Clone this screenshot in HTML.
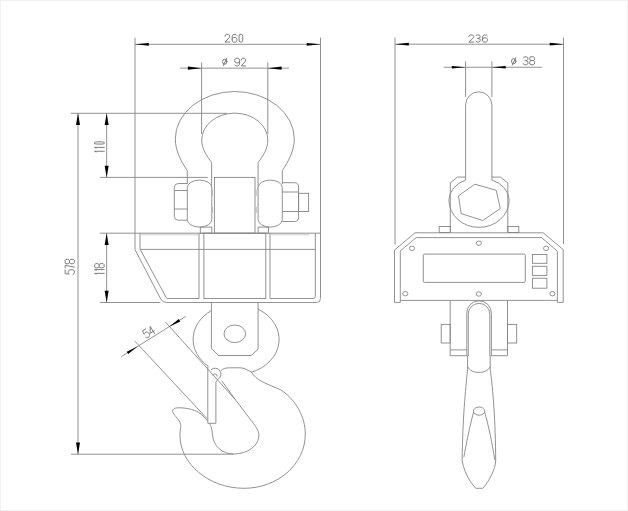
<!DOCTYPE html>
<html><head><meta charset="utf-8"><style>
html,body{margin:0;padding:0;background:#fff;}
svg{display:block;}
text{font-family:"Liberation Sans",sans-serif;fill:#777;}
</style></head><body>
<svg width="628" height="511" viewBox="0 0 628 511">
<rect x="0" y="0" width="628" height="511" fill="#fff"/>
<rect x="0.5" y="0.5" width="627" height="510" fill="none" stroke="#f1f1f1" stroke-width="1"/>
<g fill="none" stroke="#868686" stroke-width="0.9">
<!-- ===== LEFT VIEW ===== -->
<!-- 260 dimension -->
<line x1="135.0" y1="37.7" x2="135.0" y2="249.6"/>
<line x1="320.5" y1="37.7" x2="320.5" y2="298"/>
<line x1="135.0" y1="44.3" x2="320.5" y2="44.3"/>
<!-- dia 92 -->
<line x1="201.6" y1="62.3" x2="201.6" y2="134"/>
<line x1="267.8" y1="62.3" x2="267.8" y2="134"/>
<line x1="180.1" y1="68.15" x2="289" y2="68.15"/>
<!-- 110 / 578 dims -->
<line x1="70.8" y1="113.3" x2="227" y2="113.3"/>
<line x1="100.1" y1="177.4" x2="207.8" y2="177.4"/>
<line x1="106.65" y1="113.3" x2="106.65" y2="177.4"/>
<line x1="78" y1="113.3" x2="78" y2="454.2"/>
<line x1="70.9" y1="454.2" x2="233.5" y2="454.2"/>
<!-- 118 -->
<line x1="99.8" y1="233.2" x2="320.5" y2="233.2"/>
<line x1="99.8" y1="302.5" x2="160.3" y2="302.5"/>
<line x1="106.65" y1="233.2" x2="106.65" y2="302.5"/>
<!-- shackle -->
<path d="M187.3 184 L187.3 170.6 C181.5 162 175.3 151 175.3 139 A59.5 47.5 0 0 1 294.3 139 C294.3 151 288 162 282.3 170.6 L282.3 184"/>
<path d="M211.6 190 L211.6 162.5 C207 156 201.7 149 201.7 140 A33.05 26.9 0 0 1 267.8 140 C267.8 149 263 156 258.1 162.5 L258.1 190"/>
<line x1="212.4" y1="190" x2="212.4" y2="196" stroke="#bbb"/>
<line x1="212.4" y1="207" x2="212.4" y2="213" stroke="#bbb"/>
<line x1="256.3" y1="190" x2="256.3" y2="196" stroke="#bbb"/>
<line x1="256.3" y1="207" x2="256.3" y2="213" stroke="#bbb"/>
<!-- eyes -->
<rect x="187.3" y="180.1" width="24.5" height="47" rx="12.2" ry="7.5" fill="#fff"/>
<rect x="258.1" y="180.1" width="24.2" height="47" rx="12.1" ry="7.5" fill="#fff"/>
<!-- nuts -->
<path d="M187.3 183.5 L178.3 183.5 Q174.3 183.5 174.3 187.5 L174.3 216.2 Q174.3 220.2 178.3 220.2 L187.3 220.2"/>
<line x1="174.3" y1="190.5" x2="187.3" y2="190.5"/>
<line x1="174.3" y1="209" x2="187.3" y2="209"/>
<path d="M282.3 182.7 L294.4 182.7 Q298.6 182.7 298.6 186.9 L298.6 217.3 Q298.6 221.5 294.4 221.5 L282.3 221.5"/>
<line x1="282.3" y1="192" x2="298.6" y2="192"/>
<line x1="282.3" y1="211.5" x2="298.6" y2="211.5"/>
<rect x="298.6" y="193.3" width="10" height="18.2"/>
<!-- center block -->
<rect x="214.4" y="177.4" width="40.6" height="55.8"/>
<!-- tabs -->
<rect x="200.3" y="227.1" width="11.5" height="6.1"/>
<rect x="258.1" y="227.1" width="10.4" height="6.1"/>
<!-- body -->
<path d="M135.0 249.6 L160.8 299.2 Q162.8 302.5 166.4 302.5 L316.5 302.5 Q320.5 302.5 320.5 298.5"/>
<path d="M140 233.2 L140 249 L166.2 297.6 Q166.8 298.5 168 298.5 L199 298.5 L199 233.2"/>
<rect x="203.9" y="233.2" width="61.9" height="65.3"/>
<path d="M270 233.2 L270 298.5 L313.3 298.5 Q315.3 298.5 315.3 296.5 L315.3 233.2"/>
<line x1="140" y1="249.4" x2="315.3" y2="249.4"/>
<line x1="140" y1="234.8" x2="199" y2="234.8" stroke="#c8c8c8"/>
<line x1="270" y1="234.8" x2="309" y2="234.8" stroke="#c8c8c8"/>
<!-- hook eye -->
<path d="M211.5 310.53 A43 35.2 0 0 0 208.5 366.39"/>
<path d="M258.1 309.16 A43 35.2 0 0 1 251.1 372.39"/>
<path d="M211.4 302.5 L211.4 348.4 L218.5 355.5 L251 355.5 L258.1 349.3 L258.1 302.5"/>
<ellipse cx="234.8" cy="333.8" rx="10.8" ry="8.8"/>
<!-- 54 dim -->
<line x1="121.4" y1="356.5" x2="185.7" y2="316.4"/>
<line x1="134.8" y1="341.1" x2="207.1" y2="418.7"/>
<line x1="165.4" y1="322" x2="235.3" y2="399.6"/>
<!-- hook -->
<path d="M251 371.5 C256 381 268 384 281 390 C296 400 305.3 417 305.3 434 C305.3 465 277 488.3 244 488.3 C208 488.3 180 463 180 436 C180 430 181 427 180.7 424.6 C179 418 173 415 172.6 411.5 C172.5 408.5 175 407.7 180 407.8 C188 408 196 410 201 414 L207.7 421"/>
<path d="M221.8 380.8 L235.3 399.6 L250 419 C255 425.5 258.9 430 258.9 435 C258.9 445.5 248 454 233.5 454 C222 454 213.5 446 212.5 435 C212 429 211 426 209.5 423.5"/>
<path d="M220.8 370.8 C223 368.5 226 367.8 229.6 367.8 L240.3 367.8 C244 367.8 247.5 370 251 371.7"/>
<!-- latch -->
<path d="M207.8 366.5 L207.8 423.3 L215.9 423.3 L215.9 382.5 Q216 380.6 217.5 380.4"/>
<path d="M211 369.8 A5.9 5.9 0 1 1 217.4 379.5"/>
<path d="M212.6 375.4 A2.4 2.4 0 0 1 217.2 376.6"/>
<!-- ===== RIGHT VIEW ===== -->
<line x1="395" y1="37.5" x2="395" y2="244.5"/>
<line x1="563.5" y1="37.5" x2="563.5" y2="244"/>
<line x1="395" y1="44.2" x2="563.5" y2="44.2"/>
<line x1="465.6" y1="61.4" x2="465.6" y2="97"/>
<line x1="491.9" y1="61.4" x2="491.9" y2="97"/>
<line x1="443.7" y1="67.25" x2="541.8" y2="67.25"/>
<path d="M465.6 180.1 L465.6 105 A13.15 13.15 0 0 1 491.9 105 L491.9 180.1"/>
<path d="M450.3 232 L450.3 182.8 L457.5 177.1 L465.6 177.1"/>
<path d="M491.9 177.1 L500.3 177.1 L507.8 182.8 L507.8 232"/>
<path d="M465.6 180.1 A27 22 0 0 0 448.9 200 A30.15 27.4 0 0 0 479.05 227.4 A30.15 27.4 0 0 0 509.2 200 A27 22 0 0 0 491.9 180.1"/>
<polygon points="474.9,184.2 496.2,190.3 500.3,208.6 482.7,220.5 461.2,213.6 458.5,195.8"/>
<rect x="439.2" y="226.5" width="11.1" height="6"/>
<rect x="507.8" y="226.5" width="11" height="6"/>
<!-- display -->
<path d="M415 232.8 L543.2 232.8 L563.2 249.6 L563.2 302.4 L557.4 302.4 L557.4 251.3 L541.6 237.6 L416.3 237.6 L400.3 250.8 L400.3 302.4 L394.5 302.4 L394.5 250 Z"/>
<line x1="400.3" y1="300.4" x2="557.4" y2="300.4"/>
<rect x="423.3" y="254.1" width="102" height="28.3" rx="1.2"/>
<rect x="532.4" y="254.5" width="14.5" height="8.8"/>
<rect x="532.4" y="266.3" width="14.5" height="9.1"/>
<rect x="532.4" y="278.2" width="14.5" height="10"/>
<ellipse cx="412" cy="248.3" rx="2.6" ry="2.2"/>
<ellipse cx="478.8" cy="243.2" rx="2.6" ry="2.2"/>
<ellipse cx="546.1" cy="248.3" rx="2.6" ry="2.2"/>
<ellipse cx="405.3" cy="293.7" rx="2.6" ry="2.2"/>
<ellipse cx="478.8" cy="294" rx="2.6" ry="2.2"/>
<ellipse cx="552.4" cy="293.7" rx="2.6" ry="2.2"/>
<!-- lower plate -->
<path d="M450.2 300.4 L450.2 355.7 L466.8 355.7"/>
<path d="M507.5 300.4 L507.5 355.7 L491.4 355.7"/>
<line x1="450.2" y1="349.9" x2="466.8" y2="349.9"/>
<line x1="491.4" y1="349.9" x2="507.5" y2="349.9"/>
<rect x="441.2" y="324.4" width="9" height="18.6"/>
<rect x="507.5" y="324.4" width="9.2" height="18.6"/>
<path d="M466.8 356 L466.8 313.1 A12.3 12.3 0 0 1 491.4 313.1 L491.4 356"/>
<path d="M467.6 355.6 L467.6 369"/>
<path d="M490.2 355.6 L490.2 369"/>
<path d="M468.3 356 L468.3 314.15 A10.75 10.75 0 0 1 489.8 314.15 L489.8 356"/>
<path d="M467.6 366.6 C470 371 474 372.4 478.9 372.4 C483.8 372.4 488 371 490.2 366.6"/>
<path d="M467.6 369 C465.5 390 462.5 420 462.2 459.8 C462.8 468 468 480 475.8 488.3 L482.8 488.3 C490 480 495.2 469 495.7 461 C495.5 420 493 390 490.2 369"/>
<path d="M473.6 412 C470 425 466 445 463.9 457"/>
<path d="M484.6 412 C488.5 425 492.5 445 494.8 460"/>
<ellipse cx="479.1" cy="411.1" rx="5.7" ry="4.1"/>
</g>
<!-- arrowheads -->
<g fill="#000" stroke="none">
<polygon points="135.00,44.30 148.80,45.65 148.80,42.95"/>
<polygon points="320.50,44.30 306.70,42.95 306.70,45.65"/>
<polygon points="201.70,68.15 187.90,66.60 187.90,69.70"/>
<polygon points="267.80,68.15 281.60,69.70 281.60,66.60"/>
<polygon points="106.65,113.30 104.65,125.00 108.65,125.00"/>
<polygon points="106.65,177.40 108.65,165.70 104.65,165.70"/>
<polygon points="78.00,113.30 76.00,125.00 80.00,125.00"/>
<polygon points="78.00,454.20 80.00,442.50 76.00,442.50"/>
<polygon points="106.65,233.20 104.65,244.90 108.65,244.90"/>
<polygon points="106.65,302.50 108.65,290.80 104.65,290.80"/>
<polygon points="395.00,44.20 408.80,45.55 408.80,42.85"/>
<polygon points="563.50,44.20 549.70,42.85 549.70,45.55"/>
<polygon points="465.60,67.25 451.80,65.90 451.80,68.60"/>
<polygon points="491.90,67.25 505.70,68.60 505.70,65.90"/>
<polygon points="137.90,346.30 126.73,351.63 128.21,354.01"/>
<polygon points="169.10,326.80 180.27,321.47 178.79,319.09"/>
</g>
<!-- text -->
<g fill="none" stroke="#6e6e6e" stroke-width="0.9" stroke-linejoin="round" stroke-linecap="round">
<path d="M 224.95 36.04 L 225.43 34.97 L 226.39 34.35 L 228.31 34.35 L 229.27 34.97 L 229.75 36.04 L 229.59 37.12 L 228.95 38.05 L 224.95 42.05 L 229.75 42.05"/>
<path d="M 236.71 35.27 L 235.99 34.50 L 235.03 34.35 L 233.91 34.35 L 232.95 34.89 L 232.31 36.04 L 232.15 37.43 L 232.15 39.89 L 232.47 41.28 L 233.35 42.05 L 235.75 42.05 L 236.63 41.28 L 236.95 40.12 L 236.95 39.43 L 236.55 38.20 L 235.59 37.51 L 233.51 37.51 L 232.63 38.12 L 232.15 39.12"/>
<path d="M 239.97 34.35 L 241.82 34.35 L 242.50 35.12 L 242.75 36.51 L 242.75 39.89 L 242.50 41.28 L 241.82 42.05 L 239.97 42.05 L 239.30 41.28 L 239.05 39.89 L 239.05 36.51 L 239.30 35.12 Z"/>
<ellipse cx="224.70" cy="61.70" rx="2.2" ry="2.6"/><path d="M223.30 65.60 L226.70 58.20"/>
<path d="M 234.89 65.03 L 235.63 65.80 L 236.61 65.95 L 237.75 65.95 L 238.73 65.41 L 239.39 64.26 L 239.55 62.87 L 239.55 60.41 L 239.22 59.02 L 238.32 58.25 L 235.88 58.25 L 234.98 59.02 L 234.65 60.17 L 234.65 60.87 L 235.06 62.10 L 236.04 62.79 L 238.16 62.79 L 239.06 62.18 L 239.55 61.18"/>
<path d="M 241.25 59.94 L 241.68 58.87 L 242.54 58.25 L 244.26 58.25 L 245.12 58.87 L 245.55 59.94 L 245.41 61.02 L 244.83 61.95 L 241.25 65.95 L 245.55 65.95"/>
<path d="M 468.85 36.51 L 469.34 35.52 L 470.32 34.95 L 472.28 34.95 L 473.26 35.52 L 473.75 36.51 L 473.59 37.51 L 472.93 38.36 L 468.85 42.05 L 473.75 42.05"/>
<path d="M 475.95 35.87 L 476.58 35.16 L 477.35 34.95 L 478.89 34.95 L 479.73 35.38 L 480.08 36.23 L 480.01 37.29 L 479.38 38.07 L 478.61 38.36 L 477.49 38.36 M 478.61 38.36 L 479.66 38.78 L 480.15 39.78 L 480.15 40.84 L 479.73 41.62 L 478.82 42.05 L 477.28 42.05 L 476.37 41.69 L 475.95 41.06"/>
<path d="M 487.30 35.80 L 486.53 35.09 L 485.51 34.95 L 484.32 34.95 L 483.30 35.45 L 482.62 36.51 L 482.45 37.79 L 482.45 40.06 L 482.79 41.34 L 483.73 42.05 L 486.27 42.05 L 487.21 41.34 L 487.55 40.27 L 487.55 39.64 L 487.12 38.50 L 486.11 37.86 L 483.89 37.86 L 482.96 38.43 L 482.45 39.35"/>
<ellipse cx="513.70" cy="61.20" rx="2.2" ry="2.6"/><path d="M512.30 65.10 L515.70 57.70"/>
<path d="M 523.35 57.88 L 524.04 57.09 L 524.88 56.85 L 526.57 56.85 L 527.49 57.32 L 527.87 58.27 L 527.80 59.46 L 527.11 60.33 L 526.26 60.64 L 525.04 60.64 M 526.26 60.64 L 527.41 61.12 L 527.95 62.22 L 527.95 63.41 L 527.49 64.28 L 526.49 64.75 L 524.81 64.75 L 523.81 64.36 L 523.35 63.64"/>
<path d="M 530.90 56.85 L 533.40 56.85 L 534.40 57.48 L 534.65 58.67 L 534.32 59.85 L 533.40 60.56 L 530.90 60.56 L 529.98 59.85 L 529.65 58.67 L 529.90 57.48 Z M 530.90 60.56 L 529.90 61.27 L 529.65 62.77 L 529.98 64.12 L 530.90 64.75 L 533.40 64.75 L 534.32 64.12 L 534.65 62.77 L 534.40 61.27 L 533.40 60.56"/>
<path d="M 96.10 152.02 L 94.55 151.29 L 104.25 151.29"/>
<path d="M 96.10 148.12 L 94.55 147.39 L 104.25 147.39"/>
<path d="M 94.55 143.50 L 94.55 142.40 L 95.52 142.00 L 97.27 141.85 L 101.53 141.85 L 103.28 142.00 L 104.25 142.40 L 104.25 143.50 L 103.28 143.90 L 101.53 144.05 L 97.27 144.05 L 95.52 143.90 Z"/>
<path d="M 96.17 274.12 L 94.65 273.39 L 104.15 273.39"/>
<path d="M 96.17 270.32 L 94.65 269.59 L 104.15 269.59"/>
<path d="M 94.65 266.78 L 94.65 264.62 L 95.41 263.76 L 96.84 263.55 L 98.26 263.84 L 99.11 264.62 L 99.11 266.78 L 98.26 267.56 L 96.84 267.85 L 95.41 267.64 Z M 99.11 266.78 L 99.97 267.64 L 101.77 267.85 L 103.39 267.56 L 104.15 266.78 L 104.15 264.62 L 103.39 263.84 L 101.77 263.55 L 99.97 263.76 L 99.11 264.62"/>
<path d="M 65.15 270.05 L 65.15 273.73 L 69.20 274.10 L 68.46 273.27 L 68.19 272.38 L 68.28 271.25 L 69.01 270.27 L 70.49 269.75 L 72.14 269.75 L 73.61 270.20 L 74.35 271.10 L 74.35 272.75 L 73.89 273.65 L 72.97 274.25"/>
<path d="M 65.15 267.95 L 65.15 265.35 L 74.35 267.08"/>
<path d="M 65.15 262.70 L 65.15 260.40 L 65.89 259.48 L 67.27 259.25 L 68.65 259.56 L 69.47 260.40 L 69.47 262.70 L 68.65 263.54 L 67.27 263.85 L 65.89 263.62 Z M 69.47 262.70 L 70.30 263.62 L 72.05 263.85 L 73.61 263.54 L 74.35 262.70 L 74.35 260.40 L 73.61 259.56 L 72.05 259.25 L 70.30 259.48 L 69.47 260.40"/>
<path d="M 145.73 328.89 L 142.47 330.91 L 144.08 334.26 L 144.46 333.23 L 145.13 332.52 L 146.17 331.98 L 147.39 332.01 L 148.56 332.86 L 149.36 334.15 L 149.67 335.54 L 149.22 336.61 L 147.76 337.51 L 146.74 337.65 L 145.76 337.27"/>
<path d="M 154.59 333.54 L 150.16 326.40 L 150.20 333.30 L 154.28 330.77"/>

</g>
</svg>
</body></html>
